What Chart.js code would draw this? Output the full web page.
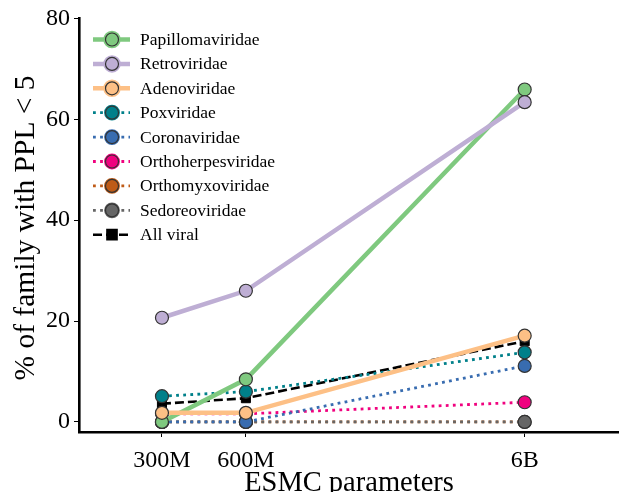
<!DOCTYPE html>
<html>
<head>
<meta charset="utf-8">
<script src="https://cdn.jsdelivr.net/npm/chart.js@4"></script>
<style>
  html, body { margin: 0; padding: 0; background: #fff; overflow: hidden; }
  #wrap { width: 626px; height: 492px; position: relative; }
</style>
</head>
<body>
<div id="wrap"><canvas id="pplChart"></canvas></div>
<script>
// Data
const modelSizes = [3e8, 6e8, 6e9];
const sizeLabels = ['300M', '600M', '6B'];
const yTicks = [0, 20, 40, 60, 80];

const papillomaviridae = [0, 8.45, 65.9];
const retroviridae = [20.65, 26.0, 63.4];
const adenoviridae = [1.8, 1.8, 17.1];
const poxviridae = [5.1, 6.0, 13.8];
const coronaviridae = [0, 0, 11.1];
const orthoherpesviridae = [1.6, 1.6, 3.9];
const orthomyxoviridae = [0, 0, 0];
const sedoreoviridae = [0, 0, 0];
const allViral = [3.6, 4.7, 16.0];

const FONT = "'Liberation Serif', 'Times New Roman', serif";
const toPoints = vals => vals.map((v, i) => ({ x: modelSizes[i], y: v }));

function solid(label, vals, color, order) {
    return {
        label, data: toPoints(vals), order,
        borderColor: color, borderWidth: 4.5,
        pointRadius: 6.5, pointHoverRadius: 6.5,
        pointBackgroundColor: color, pointBorderColor: '#333', pointBorderWidth: 1.2
    };
}
function dotted(label, vals, color, order) {
    return {
        label, data: toPoints(vals), order,
        borderColor: color, borderWidth: 2.8, borderDash: [2.8, 4.3], borderCapStyle: 'butt',
        pointRadius: 6.5, pointHoverRadius: 6.5,
        pointBackgroundColor: color, pointBorderColor: '#333', pointBorderWidth: 1.2
    };
}

const datasets = [
    solid('Papillomaviridae', papillomaviridae, '#7fc97f', 3),
    solid('Retroviridae', retroviridae, '#beaed4', 2),
    solid('Adenoviridae', adenoviridae, '#fdc086', 1),
    dotted('Poxviridae', poxviridae, '#00808a', 4),
    dotted('Coronaviridae', coronaviridae, '#386cb0', 5),
    dotted('Orthoherpesviridae', orthoherpesviridae, '#f0027f', 6),
    dotted('Orthomyxoviridae', orthomyxoviridae, '#bf5b17', 8),
    dotted('Sedoreoviridae', sedoreoviridae, '#666666', 7),
    {
        label: 'All viral', data: toPoints(allViral), order: 9,
        borderColor: '#000', borderWidth: 2.6, borderDash: [9, 4],
        pointStyle: 'rect', pointRadius: 6.4, pointHoverRadius: 6.4,
        pointBackgroundColor: '#000', pointBorderColor: '#000', pointBorderWidth: 1
    }
];

// Legend with line + marker samples, like matplotlib
const lineLegend = {
    id: 'lineLegend',
    afterDraw(chart) {
        const ctx = chart.ctx;
        const left = chart.chartArea.left + 14;
        ctx.save();
        chart.data.datasets.forEach((ds, i) => {
            const y = 39.5 + i * 24.4;
            ctx.strokeStyle = ds.borderColor;
            ctx.lineWidth = ds.borderWidth;
            ctx.setLineDash(ds.borderDash || []);
            ctx.lineCap = 'butt';
            ctx.beginPath();
            ctx.moveTo(left, y);
            ctx.lineTo(left + 37, y);
            ctx.stroke();
            ctx.setLineDash([]);
            Chart.helpers.drawPoint(ctx, {
                pointStyle: ds.pointStyle || 'circle',
                radius: ds.pointRadius,
                borderWidth: ds.pointBorderWidth
            }, left + 19, y);
            ctx.fillStyle = ds.pointBackgroundColor;
            ctx.strokeStyle = ds.pointBorderColor;
            ctx.lineWidth = ds.pointBorderWidth;
            ctx.fill();
            ctx.stroke();
            ctx.fillStyle = '#000';
            ctx.font = '17.5px ' + FONT;
            ctx.textBaseline = 'middle';
            ctx.fillText(ds.label, left + 47, y + 1);
        });
        ctx.restore();
    }
};

const ctx = document.getElementById('pplChart').getContext('2d');
new Chart(ctx, {
    type: 'line',
    data: { datasets },
    options: {
        responsive: true,
        maintainAspectRatio: false,
        animation: false,
        layout: { padding: { left: 0, right: 0, top: 17, bottom: 0 } },
        elements: { line: { tension: 0 } },
        scales: {
            x: {
                type: 'logarithmic',
                min: 1.512e8,
                max: 1.3e10,
                afterBuildTicks: s => { s.ticks = modelSizes.map(v => ({ value: v })); },
                afterFit: s => { s.height = 60; },
                ticks: {
                    autoSkip: false, maxRotation: 0, padding: 9,
                    color: '#000', font: { family: FONT, size: 24 },
                    callback: v => sizeLabels[modelSizes.indexOf(v)]
                },
                grid: { drawOnChartArea: false, drawTicks: true, tickLength: 5, color: '#000', lineWidth: 1 },
                border: { display: true, color: '#000', width: 2.6 },
                title: { display: false }
            },
            y: {
                min: -2,
                max: 80,
                afterBuildTicks: s => { s.ticks = yTicks.map(v => ({ value: v })); },
                afterFit: s => { s.width = 79; },
                ticks: { padding: 4, color: '#000', font: { family: FONT, size: 24 } },
                grid: { drawOnChartArea: false, drawTicks: true, tickLength: 5, color: '#000', lineWidth: 1 },
                border: { display: true, color: '#000', width: 2.6 },
                title: { display: false }
            }
        },
        plugins: {
            legend: { display: false },
            tooltip: { enabled: false }
        }
    },
    plugins: [lineLegend, {
        id: 'axisTitles',
        afterDraw(chart) {
            const c = chart.ctx;
            c.save();
            c.fillStyle = '#000';
            c.textAlign = 'center';
            c.textBaseline = 'alphabetic';
            c.font = '28.5px ' + FONT;
            c.fillText('ESMC parameters', 349, 491);
            c.translate(34, 228);
            c.rotate(-Math.PI / 2);
            c.font = '29.5px ' + FONT;
            c.fillText('% of family with PPL < 5', 0, 0);
            c.restore();
        }
    }]
});
</script>
</body>
</html>
